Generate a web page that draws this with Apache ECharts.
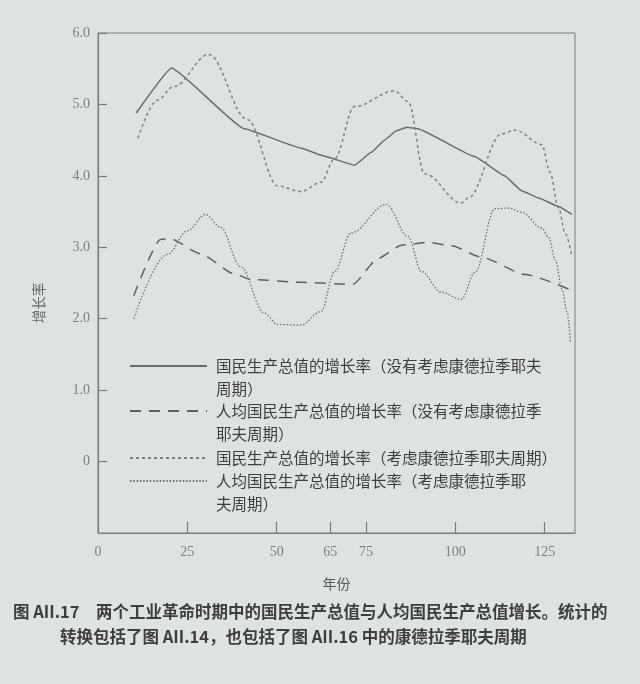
<!DOCTYPE html>
<html>
<head>
<meta charset="utf-8">
<script src="https://cdn.jsdelivr.net/npm/echarts@6/dist/echarts.min.js"></script>
<style>
html,body{margin:0;padding:0;background:#dfe3df;}
#c{width:640px;height:684px;}
</style>
</head>
<body>
<div id="c"></div>
<script>
// ---- data (years, growth rate %) ----
const seriesNames = [
  '国民生产总值的增长率（没有考虑康德拉季耶夫周期）',
  '人均国民生产总值的增长率（没有考虑康德拉季耶夫周期）',
  '国民生产总值的增长率（考虑康德拉季耶夫周期）',
  '人均国民生产总值的增长率（考虑康德拉季耶夫周期）'
];
const legendLabels = [
  '国民生产总值的增长率（没有考虑康德拉季耶夫\n周期）',
  '人均国民生产总值的增长率（没有考虑康德拉季\n耶夫周期）',
  '国民生产总值的增长率（考虑康德拉季耶夫周期）',
  '人均国民生产总值的增长率（考虑康德拉季耶\n夫周期）'
];
const xTicks = [0, 25, 50, 65, 75, 100, 125];
const yTicks = [0, 1, 2, 3, 4, 5, 6];

const gnpNoK = [[10.7,4.88],[20.6,5.51],[40.9,4.66],[56.8,4.39],[62.4,4.29],[71.8,4.15],[76.5,4.33],[80.2,4.50],[83.5,4.63],[86.5,4.68],[89.5,4.66],[105.4,4.27],[113.8,4.00],[118.6,3.79],[123.3,3.69],[128.9,3.57],[132.6,3.46]];
const pcNoK = [[10,2.32],[17.5,3.11],[20.3,3.12],[28.7,2.91],[38.1,2.63],[42.8,2.55],[56.8,2.51],[71.3,2.48],[78.3,2.84],[84.9,3.03],[92.4,3.07],[98.9,3.02],[107.4,2.86],[119.5,2.62],[132.4,2.40]];
const gnpK = [[11.2,4.53],[16.6,5.06],[21.2,5.25],[31,5.70],[41.8,4.79],[50.3,3.86],[56.8,3.78],[62.4,3.91],[66.2,4.24],[71.8,4.97],[83,5.19],[86.8,5.04],[91.4,4.03],[101.7,3.62],[103.6,3.69],[113,4.59],[116.7,4.64],[124.2,4.44],[126.5,4.05],[128.9,3.55],[130.8,3.19],[132.6,2.88]];
const pcK = [[10,2.00],[19.4,2.90],[25,3.23],[30.1,3.46],[34.3,3.28],[39.9,2.73],[46.5,2.08],[50.3,1.92],[56.8,1.91],[62.4,2.10],[66.2,2.66],[70.8,3.20],[80.7,3.60],[86.8,3.15],[90.5,2.66],[96.1,2.37],[101.7,2.27],[105.5,2.65],[111.1,3.54],[114.9,3.55],[118.6,3.49],[124.2,3.27],[126.1,3.14],[128,2.82],[129.9,2.41],[131.3,2.09],[132.2,1.68]];

const captionLine1 = '图 AII.17　两个工业革命时期中的国民生产总值与人均国民生产总值增长。统计的';
const captionLine2 = '转换包括了图 AII.14，也包括了图 AII.16 中的康德拉季耶夫周期';

// ---- chart ----
const chart = echarts.init(document.getElementById('c'), null, {renderer:'canvas'});
const axisColor = '#7a7d7a';
const labelColor = '#7c7f7c';
const textColor = '#3c3f3c';
const L = 23;

const lineStyles = [
  {color:'#6a6d6a', width:1.5, type:'solid'},
  {color:'#5f625f', width:1.5, type:[11,8]},
  {color:'#7d807d', width:1.5, type:[3,3]},
  {color:'#6d706d', width:1.3, type:[1.5,1.8]}
];
const dataSets = [gnpNoK, pcNoK, gnpK, pcK];
const smoothVals = [0.1, 0.2, 0.35, 0.35];
const twoLine = [true, true, false, true];
// icon centre = top + 1.5*L - 4.5 for 3-line, top + 7 (.. ) for single line
const legendTops = [366 - 1.5*L + 0, 411 - 1.5*L, 458 - L/2, 481 - 1.5*L];

const option = {
  backgroundColor: '#dfe3df',
  animation: false,
  title: [
    {text: captionLine1, left: 8, top: 598, textStyle:{fontSize:16.5, fontWeight:'bold', color:textColor, fontFamily:'Noto Sans CJK SC'}},
    {text: captionLine2, left: 55, top: 623, textStyle:{fontSize:16.5, fontWeight:'bold', color:textColor, fontFamily:'Noto Sans CJK SC'}}
  ],
  grid: {left: 98, right: 65, top: 33, bottom: 151, show: true, borderColor: axisColor, borderWidth: 1, backgroundColor:'transparent'},
  xAxis: {
    type: 'value', min: 0, max: 133.5,
    name: '年份', nameLocation: 'middle', nameGap: 44,
    nameTextStyle: {fontSize: 14, color: '#555855', fontFamily:'Noto Sans CJK SC'},
    axisLine: {show: true, onZero: false, lineStyle: {color: axisColor, width: 1.2}},
    axisTick: {show: true, inside: true, length: 11, lineStyle:{color:axisColor, width:1.2}, customValues: xTicks.slice(1)},
    axisLabel: {customValues: xTicks, margin: 12, fontSize: 14, color: labelColor, fontFamily: 'Liberation Serif'},
    splitLine: {show: false}
  },
  yAxis: {
    type: 'value', min: -1, max: 6, interval: 1,
    name: '增长率', nameLocation: 'middle', nameGap: 52, nameRotate: 90,
    nameTextStyle: {fontSize: 13.5, color: '#666966', fontFamily:'Noto Sans CJK SC', padding:[0,40,0,0]},
    axisLine: {show: true, onZero: false, lineStyle: {color: axisColor, width: 1.2}},
    axisTick: {show: true, inside: true, length: 9, lineStyle:{color:axisColor, width:1.2}, customValues: yTicks},
    axisLabel: {customValues: yTicks, margin: 8, fontSize: 14, color: labelColor, fontFamily: 'Liberation Serif',
      formatter: v => v === 0 ? '0' : v.toFixed(1)},
    splitLine: {show: false}
  },
  legend: seriesNames.map((n, i) => ({
    data: [n],
    left: 129, top: legendTops[i], orient: 'vertical', padding: 0, itemGap: 0,
    itemWidth: 77, itemHeight: 14, selectedMode: false,
    itemStyle: {opacity: 0, color: 'transparent', borderWidth: 0},
    formatter: name => {
      const t = legendLabels[seriesNames.indexOf(name)];
      return twoLine[i] ? ' \n' + t : t;
    },
    textStyle: {fontSize: 15.5, lineHeight: L, color: textColor, fontFamily:'Noto Sans CJK SC', padding:[0,0,0,4]}
  })),
  series: dataSets.map((d, i) => ({
    name: seriesNames[i], type: 'line', data: d, symbol: 'none',
    smooth: smoothVals[i], smoothMonotone: 'x',
    lineStyle: lineStyles[i], itemStyle: {color: lineStyles[i].color}
  }))
};
chart.setOption(option);
</script>
</body>
</html>
